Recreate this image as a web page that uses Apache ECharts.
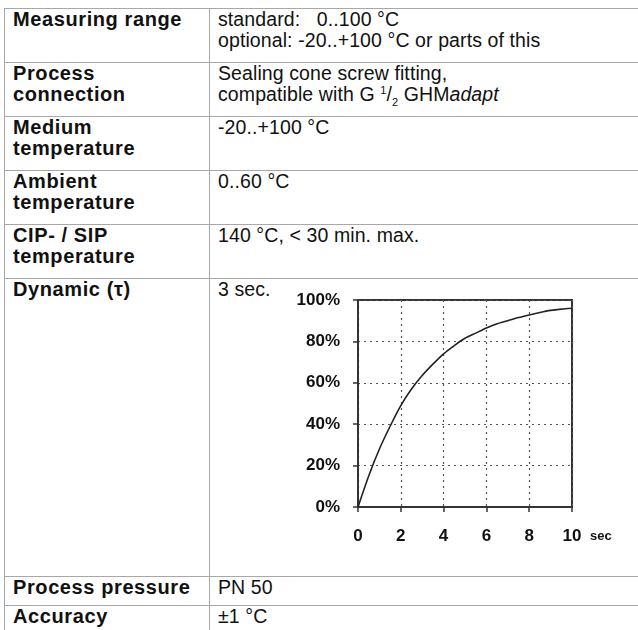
<!DOCTYPE html>
<html>
<head>
<meta charset="utf-8">
<script src="https://cdn.jsdelivr.net/npm/echarts@6/dist/echarts.min.js"></script>
<style>
  html, body { margin: 0; padding: 0; background: #fff; }
  body { width: 638px; height: 630px; overflow: hidden; position: relative; }
  table {
    position: absolute; left: 4px; top: 8px;
    border-collapse: collapse; width: 720px;
    font-family: "Liberation Sans", Arial, sans-serif;
    font-size: 19.5px; line-height: 21px; color: #111; letter-spacing: 0.1px;
  }
  td {
    border: 1px solid #a8a8a8; vertical-align: top;
    padding: 0 8px 0 8px; box-sizing: border-box;
  }
  td.k { width: 205px; font-weight: bold; font-size: 20px; letter-spacing: 0.6px; }
  #chart { position: absolute; left: 280px; top: 285px; width: 350px; height: 290px; }
</style>
</head>
<body>
<table>
  <tr style="height:54px"><td class="k">Measuring range</td><td>standard:&nbsp;&nbsp; 0..100 °C<br>optional: -20..+100 °C or parts of this</td></tr>
  <tr style="height:54px"><td class="k">Process<br>connection</td><td>Sealing cone screw fitting,<br>compatible with G <sup style="font-size:11px;line-height:0">1</sup>/<sub style="font-size:11px;line-height:0">2</sub> GHM<i>adapt</i></td></tr>
  <tr style="height:54px"><td class="k">Medium<br>temperature</td><td>-20..+100 °C</td></tr>
  <tr style="height:54px"><td class="k">Ambient<br>temperature</td><td>0..60 °C</td></tr>
  <tr style="height:54px"><td class="k">CIP- / SIP<br>temperature</td><td>140 °C, &lt; 30 min. max.</td></tr>
  <tr style="height:298px"><td class="k">Dynamic (τ)</td><td>3 sec.</td></tr>
  <tr style="height:29px"><td class="k">Process pressure</td><td>PN 50</td></tr>
  <tr style="height:29px"><td class="k">Accuracy</td><td>±1 °C</td></tr>
</table>
<div id="chart"></div>
<script>
// response curve, time in seconds vs. percent of final value
const times = [0, 0.5, 1, 1.5, 2, 2.5, 3, 3.5, 4, 4.5, 5, 5.5, 6, 6.5, 7, 7.5, 8, 8.5, 9, 9.5, 10]
const percent = [0, 15, 28, 39, 49, 57, 63.5, 69, 74, 78, 81.5, 84, 86.5, 88.5, 90, 91.5, 92.8, 94, 95, 95.6, 96]
const xTicks = [0, 2, 4, 6, 8, 10]

const labelFont = {
  fontFamily: 'Liberation Sans, Arial, sans-serif',
  fontSize: 17,
  fontWeight: 'bold',
  color: '#111'
}

const myChart = echarts.init(document.getElementById('chart'), null, { renderer: 'canvas' })
myChart.setOption({
  animation: false,
  grid: {
    left: 78,
    top: 15,
    width: 214,
    height: 207,
    show: true,
    borderColor: '#333',
    borderWidth: 2
  },
  xAxis: {
    type: 'value',
    min: xTicks[0],
    max: xTicks[xTicks.length - 1],
    interval: 2,
    name: 'sec',
    nameLocation: 'end',
    nameGap: 18,
    nameTextStyle: {
      fontFamily: 'Liberation Sans, Arial, sans-serif',
      fontSize: 13,
      fontWeight: 'bold',
      color: '#111',
      verticalAlign: 'top',
      padding: [23, 0, 0, 0]
    },
    axisLine: { lineStyle: { color: '#333', width: 2 } },
    axisTick: { show: true, length: 5, lineStyle: { color: '#333', width: 1.5 } },
    axisLabel: Object.assign({ margin: 21 }, labelFont),
    splitLine: { show: true, lineStyle: { type: [2, 4], color: '#555', width: 1.2 } }
  },
  yAxis: {
    type: 'value',
    min: 0,
    max: 100,
    interval: 20,
    axisLine: { show: true, lineStyle: { color: '#333', width: 2 } },
    axisTick: { show: true, length: 5, lineStyle: { color: '#333', width: 1.5 } },
    axisLabel: Object.assign({ margin: 18, formatter: '{value}%' }, labelFont),
    splitLine: { show: true, lineStyle: { type: [2, 4], color: '#555', width: 1.2 } }
  },
  series: [{
    type: 'line',
    data: times.map((t, i) => [t, percent[i]]),
    smooth: 0.25,
    showSymbol: false,
    lineStyle: { color: '#222', width: 1.6 }
  }]
})
</script>
</body>
</html>
